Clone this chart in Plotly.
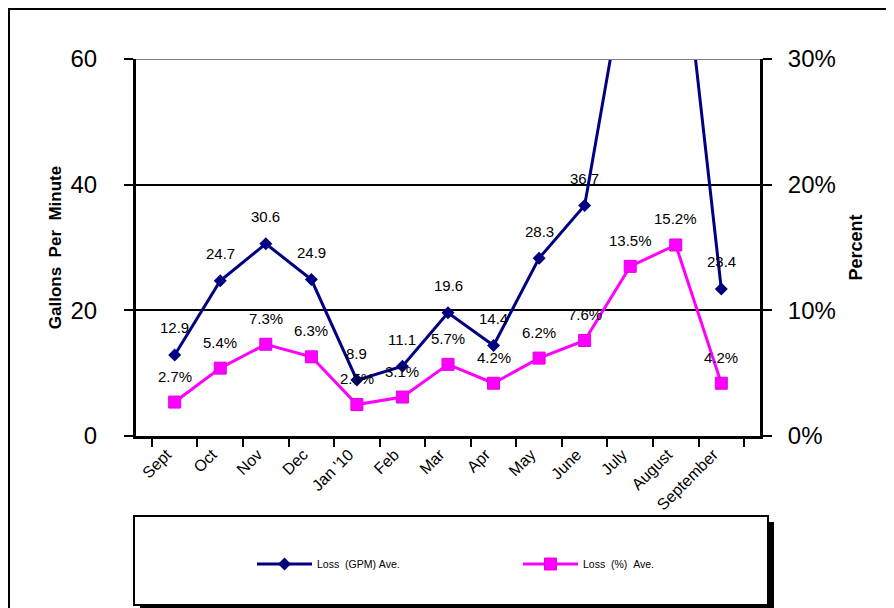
"""
Water loss chart: GPM average (left axis) and loss percent (right axis)
"""

import plotly.graph_objects as go

# data
months = ["Sept", "Oct", "Nov", "Dec", "Jan '10", "Feb", "Mar", "Apr",
          "May", "June", "July", "August", "September"]
loss_gpm = [12.9, 24.7, 30.6, 24.9, 8.9, 11.1, 19.6, 14.4, 28.3, 36.7, 78.0, 88.0, 23.4]
loss_pct = [2.7, 5.4, 7.3, 6.3, 2.5, 3.1, 5.7, 4.2, 6.2, 7.6, 13.5, 15.2, 4.2]

NAVY = "#000080"
MAGENTA = "#FF00FF"
FONT = "Liberation Sans, Arial, sans-serif"

# page puts the figure 8px in from the corner
OFF = 8
W, H = 894 - OFF, 608 - OFF
# plot area in page pixels
L, R, T, B = 136, 760, 59, 436


def px_x(p):
    return (p - L) / (R - L)


def px_y(p):
    return (B - p) / (B - T)


fig = go.Figure()
fig.add_trace(go.Scatter(
    x=months, y=loss_gpm, name="Loss\u00a0\u00a0(GPM)\u00a0Ave.",
    mode="lines+markers",
    line=dict(color=NAVY, width=3),
    marker=dict(symbol="diamond", size=10, color=NAVY),
))
fig.add_trace(go.Scatter(
    x=months, y=[v / 100 for v in loss_pct], name="Loss\u00a0\u00a0(%)\u00a0\u00a0Ave.",
    mode="lines+markers", yaxis="y2",
    line=dict(color=MAGENTA, width=3),
    marker=dict(symbol="square", size=12, color=MAGENTA,
                line=dict(color="#E000E0", width=1)),
))

# data labels (those off the top of the axis are hidden, as in the original)
annotations = []
for m, v in zip(months, loss_gpm):
    if v <= 60:
        annotations.append(dict(x=m, y=v, xref="x", yref="y", text=f"{v:.1f}",
                                showarrow=False, yshift=27,
                                font=dict(size=15, color="#000000", family=FONT)))
for m, v in zip(months, loss_pct):
    annotations.append(dict(x=m, y=v / 100, xref="x", yref="y2", text=f"{v:.1f}%",
                            showarrow=False, yshift=26,
                            font=dict(size=15, color="#000000", family=FONT)))

shapes = [
    # outer frame
    dict(type="rect", xref="paper", yref="paper",
         x0=px_x(9), x1=px_x(889), y0=px_y(625), y1=px_y(9),
         line=dict(color="#000000", width=2)),
    # top border of plot area (grey)
    dict(type="line", xref="paper", yref="y", x0=0, x1=1, y0=60, y1=60,
         line=dict(color="#808080", width=2)),
    # legend box shadow + box
    dict(type="rect", xref="paper", yref="paper",
         x0=px_x(140), x1=px_x(774), y0=px_y(612), y1=px_y(522),
         fillcolor="#000000", line=dict(width=0)),
    dict(type="rect", xref="paper", yref="paper",
         x0=px_x(134), x1=px_x(768), y0=px_y(605), y1=px_y(516),
         fillcolor="#FFFFFF", line=dict(color="#000000", width=2)),
]

fig.update_layout(
    width=W, height=H,
    template="plotly_white",
    paper_bgcolor="#FFFFFF",
    plot_bgcolor="#FFFFFF",
    font=dict(family=FONT, size=15, color="#000000"),
    margin=dict(l=L - OFF, r=894 - R, t=T - OFF, b=608 - B),
    showlegend=True,
    legend=dict(
        orientation="h", x=px_x(252), y=px_y(564), xanchor="left", yanchor="middle",
        entrywidth=196, entrywidthmode="pixels", itemwidth=55,
        bgcolor="rgba(0,0,0,0)", font=dict(size=10.5, family=FONT, color="#000000"),
    ),
    xaxis=dict(
        tickangle=-45, tickfont=dict(size=16), ticklabelshift=-8,
        showline=True, linecolor="#000000", linewidth=3,
        ticks="outside", tickson="boundaries", ticklen=8, tickwidth=2, tickcolor="#000000",
        showgrid=False, zeroline=False,
    ),
    yaxis=dict(
        range=[0, 60], tickvals=[0, 20, 40, 60], tickfont=dict(size=24),
        title=dict(text="Gallons\u00a0\u00a0Per\u00a0\u00a0Minute",
                   font=dict(size=17, family=FONT, weight="bold"), standoff=5),
        showline=True, linecolor="#000000", linewidth=3,
        ticks="outside", ticklen=9, tickwidth=2, tickcolor="#000000",
        ticklabelstandoff=22,
        showgrid=False, zeroline=False,
    ),
    yaxis2=dict(
        range=[0, 0.3], tickvals=[0, 0.1, 0.2, 0.3], tickformat=".0%",
        tickfont=dict(size=24), overlaying="y", side="right",
        title=dict(text="Percent", font=dict(size=18, family=FONT, weight="bold"),
                   standoff=15),
        showline=True, linecolor="#000000", linewidth=3,
        ticks="outside", ticklen=9, tickwidth=2, tickcolor="#000000",
        ticklabelstandoff=11,
        showgrid=True, gridcolor="#000000", gridwidth=2, zeroline=False,
    ),
    annotations=annotations,
    shapes=shapes,
)

fig.write_html("out.html")
